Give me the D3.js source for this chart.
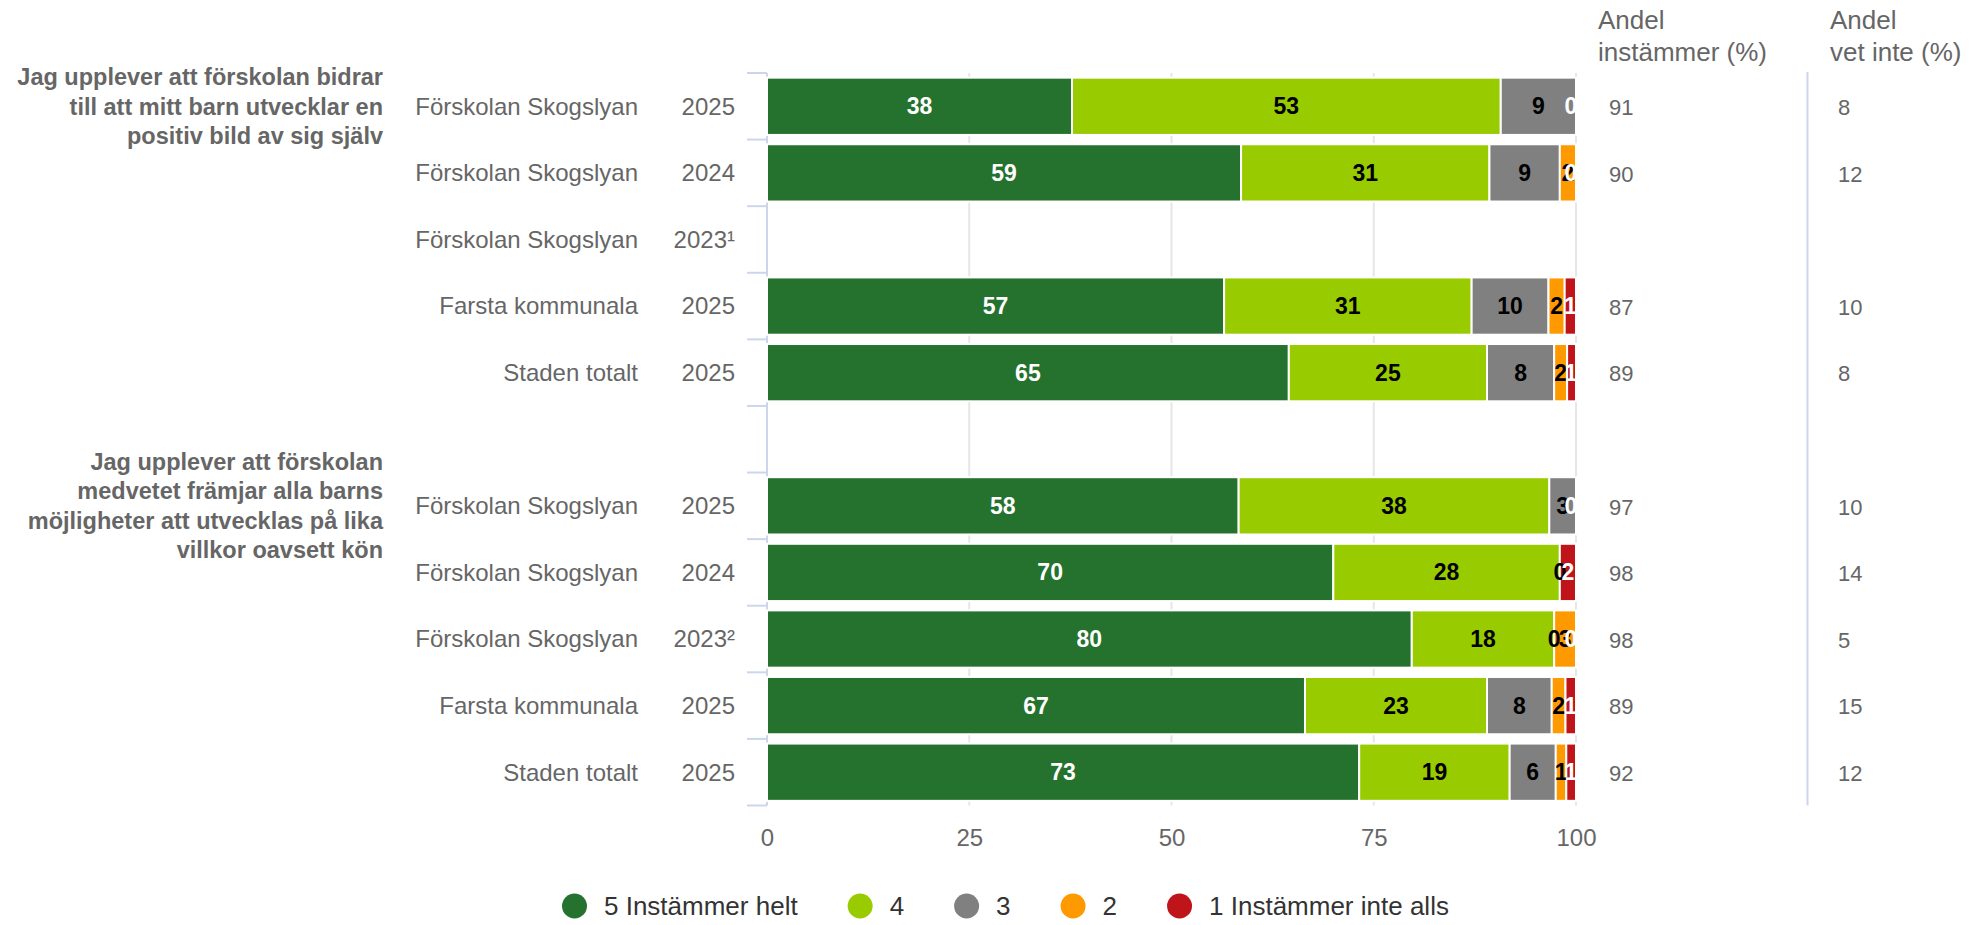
<!DOCTYPE html>
<html>
<head>
<meta charset="utf-8">
<script src="https://cdn.jsdelivr.net/npm/d3@7"></script>
<style>
  body { margin: 0; background: #fff; }
  text { font-family: "Liberation Sans", Arial, sans-serif; }
</style>
</head>
<body>
<div id="chart"></div>
<script>
////////////////////////////////////////////////////////////
///////////////////////// Data /////////////////////////////
////////////////////////////////////////////////////////////

var units = ["Förskolan Skogslyan", "Förskolan Skogslyan", "Förskolan Skogslyan", "Farsta kommunala", "Staden totalt", "",
             "Förskolan Skogslyan", "Förskolan Skogslyan", "Förskolan Skogslyan", "Farsta kommunala", "Staden totalt"];
var years = ["2025", "2024", "2023¹", "2025", "2025", "",
             "2025", "2024", "2023²", "2025", "2025"];

var questions = [
  ["Jag upplever att förskolan bidrar", "till att mitt barn utvecklar en", "positiv bild av sig själv"],
  ["Jag upplever att förskolan", "medvetet främjar alla barns", "möjligheter att utvecklas på lika", "villkor oavsett kön"]
];
var questionRow = [0, 6]; // first row of each question

var seriesNames = ["5 Instämmer helt", "4", "3", "2", "1 Instämmer inte alls"],
    colors = ["#25722e", "#99cc00", "#808080", "#ff9900", "#c0141b"];

// percent per answer, null = no data
var s5 = [37.7, 58.6, null, 56.5, 64.5, null, 58.3, 70.0, 79.7, 66.5, 73.2];
var s4 = [53.0, 30.7, null, 30.6, 24.5, null, 38.4, 28.0, 17.6, 22.5, 18.6];
var s3 = [9.3, 8.7, null, 9.5, 8.3, null, 3.3, 0, 0, 8.0, 5.7];
var s2 = [0, 2.0, null, 2.0, 1.6, null, 0, 0, 2.7, 1.7, 1.3];
var s1 = [0, 0, null, 1.4, 1.1, null, 0, 2.0, 0, 1.3, 1.2];

var andelInstammer = [91, 90, null, 87, 89, null, 97, 98, 98, 89, 92];
var andelVetInte = [8, 12, null, 10, 8, null, 10, 14, 5, 15, 12];

var xTicks = [0, 25, 50, 75, 100];

////////////////////////////////////////////////////////////
/////////////////////// Scales /////////////////////////////
////////////////////////////////////////////////////////////

var W = 1970, H = 925,
    plotTop = 73, plotBottom = 805.5;

var allSeries = [s5, s4, s3, s2, s1];

var table = units.map(function(u, i) {
  var row = { index: i, has: s5[i] !== null };
  allSeries.forEach(function(s, k) { row["k" + k] = s[i] || 0; });
  return row;
});

var keys = d3.range(5).map(function(k) { return "k" + k; });
var stacked = d3.stack().keys(keys)(table);

var x = d3.scaleLinear().domain([0, 100]).range([767, 1576]);
var y = d3.scaleBand()
  .domain(d3.range(units.length))
  .range([plotTop, plotBottom])
  .paddingInner(0.14)
  .paddingOuter(0.07);

var svg = d3.select("#chart").append("svg")
  .attr("width", W)
  .attr("height", H);

////////////////////////////////////////////////////////////
/////////////////////// Grid & axes ////////////////////////
////////////////////////////////////////////////////////////

svg.append("g").selectAll("line")
  .data(xTicks.slice(1))
  .enter().append("line")
  .attr("x1", function(d) { return x(d); })
  .attr("x2", function(d) { return x(d); })
  .attr("y1", plotTop)
  .attr("y2", plotBottom)
  .style("stroke", "#e6e6e6")
  .style("stroke-width", 2);

var xAxis = svg.append("g")
  .attr("transform", "translate(0," + 829 + ")")
  .call(d3.axisBottom(x).tickValues(xTicks).tickSize(0).tickPadding(0));
xAxis.select(".domain").remove();
xAxis.selectAll("text")
  .style("font-size", "24px")
  .style("fill", "#666")
  .style("font-family", '"Liberation Sans", Arial, sans-serif');

// left category axis
var step = y.step();
svg.append("line")
  .attr("x1", x(0)).attr("x2", x(0))
  .attr("y1", plotTop).attr("y2", plotBottom)
  .style("stroke", "#ccd6eb").style("stroke-width", 2);

svg.append("g").selectAll("line")
  .data(d3.range(units.length + 1))
  .enter().append("line")
  .attr("x1", x(0) - 20).attr("x2", x(0))
  .attr("y1", function(i) { return plotTop + i * step; })
  .attr("y2", function(i) { return plotTop + i * step; })
  .style("stroke", "#ccd6eb").style("stroke-width", 2);

// right separator
svg.append("line")
  .attr("x1", 1807.5).attr("x2", 1807.5)
  .attr("y1", 72).attr("y2", plotBottom)
  .style("stroke", "#ccd6eb").style("stroke-width", 2);

////////////////////////////////////////////////////////////
/////////////////////// Bars ///////////////////////////////
////////////////////////////////////////////////////////////

var layers = svg.append("g").selectAll("g.layer")
  .data(stacked)
  .enter().append("g")
  .attr("class", "layer")
  .style("fill", function(d, k) { return colors[k]; });

layers.selectAll("rect")
  .data(function(d) { return d.filter(function(p) { return p.data.has && p[1] - p[0] > 0; }); })
  .enter().append("rect")
  .attr("x", function(d) { return x(d[0]); })
  .attr("width", function(d) { return x(d[1]) - x(d[0]); })
  .attr("y", function(d) { return y(d.data.index); })
  .attr("height", y.bandwidth())
  .style("stroke", "#fff")
  .style("stroke-width", 2);

// data labels
svg.append("clipPath").attr("id", "plotClip")
  .append("rect")
  .attr("x", x(0)).attr("y", 0)
  .attr("width", x(100) - x(0) + 1).attr("height", H);

var labelData = [];
stacked.forEach(function(layer, k) {
  layer.forEach(function(p) {
    if (!p.data.has) return;
    var v = p[1] - p[0];
    var next = k < 4 ? allSeries[k + 1][p.data.index] : null;
    if (v === 0 && next === 0) return; // hidden behind the next zero label
    labelData.push({
      k: k,
      row: p.data.index,
      value: Math.round(allSeries[k][p.data.index]),
      cx: Math.min((x(p[0]) + x(p[1])) / 2, x(100) - 5)
    });
  });
});

svg.append("g")
  .attr("clip-path", "url(#plotClip)")
  .selectAll("text")
  .data(labelData)
  .enter().append("text")
  .attr("x", function(d) { return d.cx; })
  .attr("y", function(d) { return y(d.row) + y.bandwidth() / 2; })
  .attr("dy", "0.35em")
  .attr("text-anchor", "middle")
  .style("font-size", "23px")
  .style("font-weight", "bold")
  .style("fill", function(d) { return (d.k === 0 || d.k === 4) ? "#fff" : "#000"; })
  .text(function(d) { return d.value; });

////////////////////////////////////////////////////////////
/////////////////////// Category labels ////////////////////
////////////////////////////////////////////////////////////

var cats = svg.append("g").selectAll("g")
  .data(units)
  .enter().append("g");

cats.append("text")
  .attr("x", 638)
  .attr("y", function(d, i) { return y(i) + y.bandwidth() / 2; })
  .attr("dy", "0.35em")
  .attr("text-anchor", "end")
  .style("font-size", "24px")
  .style("fill", "#666")
  .text(function(d) { return d; });

cats.append("text")
  .attr("x", 735)
  .attr("y", function(d, i) { return y(i) + y.bandwidth() / 2; })
  .attr("dy", "0.35em")
  .attr("text-anchor", "end")
  .style("font-size", "24px")
  .style("fill", "#666")
  .text(function(d, i) { return years[i]; });

// question labels, centred on the first row of each group
questions.forEach(function(lines, q) {
  var cy = y(questionRow[q]) + y.bandwidth() / 2,
      lh = 29.5,
      y0 = cy - (lines.length - 1) * lh / 2;
  svg.append("text")
    .attr("text-anchor", "end")
    .style("font-size", "23.5px")
    .style("font-weight", "bold")
    .style("fill", "#666")
    .selectAll("tspan")
    .data(lines)
    .enter().append("tspan")
    .attr("x", 383)
    .attr("y", function(d, i) { return y0 + i * lh; })
    .attr("dy", "0.35em")
    .text(function(d) { return d; });
});

////////////////////////////////////////////////////////////
/////////////////////// Right columns //////////////////////
////////////////////////////////////////////////////////////

var headers = [
  { x: 1598, lines: ["Andel", "instämmer (%)"], values: andelInstammer, vx: 1609 },
  { x: 1830, lines: ["Andel", "vet inte (%)"], values: andelVetInte, vx: 1838 }
];

headers.forEach(function(h) {
  svg.append("text")
    .style("font-size", "26px")
    .style("fill", "#666")
    .selectAll("tspan")
    .data(h.lines)
    .enter().append("tspan")
    .attr("x", h.x)
    .attr("y", function(d, i) { return 20 + i * 32; })
    .attr("dy", "0.35em")
    .text(function(d) { return d; });

  var vals = h.values
    .map(function(v, i) { return { v: v, i: i }; })
    .filter(function(d) { return d.v !== null; });

  svg.append("g").selectAll("text")
    .data(vals)
    .enter().append("text")
    .attr("x", h.vx)
    .attr("y", function(d) { return y(d.i) + y.bandwidth() / 2 + 1; })
    .attr("dy", "0.35em")
    .style("font-size", "22px")
    .style("fill", "#666")
    .text(function(d) { return d.v; });
});

////////////////////////////////////////////////////////////
/////////////////////// Legend /////////////////////////////
////////////////////////////////////////////////////////////

var legend = svg.append("g").attr("transform", "translate(0,906)");
var lx = 562;
seriesNames.forEach(function(name, k) {
  var item = legend.append("g").attr("transform", "translate(" + lx + ",0)");
  item.append("circle")
    .attr("cx", 12.5).attr("cy", 0).attr("r", 12.5)
    .style("fill", colors[k]);
  var t = item.append("text")
    .attr("x", 42)
    .attr("dy", "0.35em")
    .style("font-size", "26px")
    .style("fill", "#333")
    .text(name);
  lx += 42 + t.node().getComputedTextLength() + 50;
});
</script>
</body>
</html>
